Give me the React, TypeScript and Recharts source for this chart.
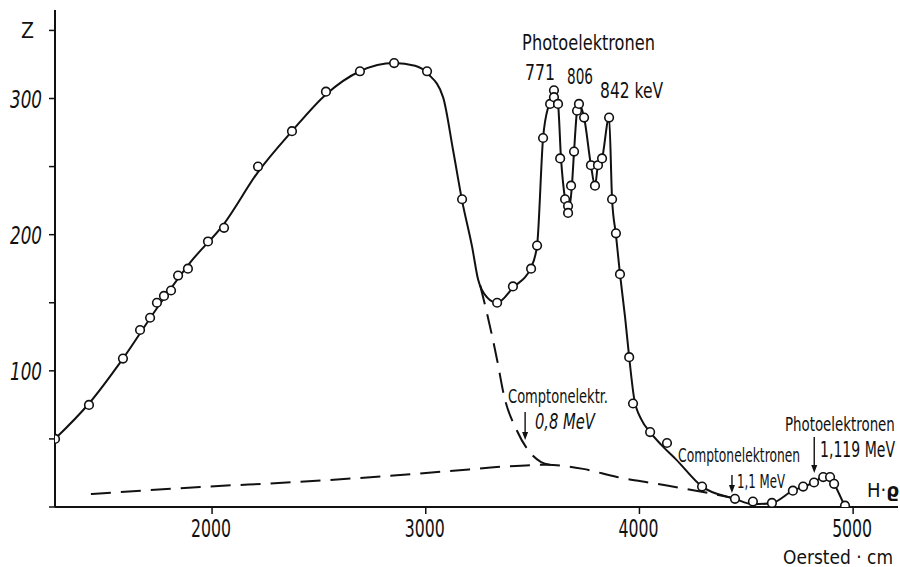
import { useLayoutEffect, useRef, useState } from "react"
import { ComposedChart, Line, Scatter, XAxis, YAxis, ReferenceDot } from "recharts"

// measured points (circles): H·ρ in Oersted·cm, Z counts
const pointH = [
  1265, 1424, 1583, 1663, 1710, 1742, 1775, 1808, 1841, 1887, 1981, 2056, 2215, 2374, 2533, 2692, 2852, 3006,
  3170, 3334, 3408, 3493, 3521, 3549, 3582, 3600, 3600, 3619, 3629, 3652, 3666, 3666, 3680, 3694, 3708, 3717,
  3741, 3773, 3792, 3806, 3825, 3858, 3872, 3890, 3909, 3952, 3970, 4050, 4129, 4293, 4447, 4531, 4620, 4718,
  4766, 4817, 4860, 4892, 4911, 4962,
]
const pointZ = [
  50, 75, 109, 130, 139, 150, 155, 159, 170, 175, 195, 205, 250, 276, 305, 320, 326, 320,
  226, 150, 162, 175, 192, 271, 296, 306, 301, 296, 256, 226, 221, 216, 236, 261, 291, 296,
  286, 251, 236, 251, 256, 286, 226, 201, 171, 110, 76, 55, 47, 15, 6, 4, 3, 12,
  15, 18, 22, 22, 17, 1,
]

// drawn solid curve
const curveH = [
  1265, 1424, 1583, 1742, 1900, 2056, 2215, 2374, 2533, 2692, 2852, 2950, 3011, 3081, 3128, 3170, 3217, 3245,
  3287, 3334, 3408, 3493, 3521, 3549, 3577, 3600, 3619, 3633, 3652, 3666, 3684, 3694, 3708, 3717, 3741, 3773,
  3792, 3806, 3825, 3858, 3872, 3890, 3909, 3933, 3952, 3975, 4010, 4050, 4100, 4171, 4293, 4447, 4531, 4620,
  4718, 4766, 4817, 4860, 4892, 4911, 4962,
]
const curveZ = [
  50, 76, 109, 146, 180, 208, 246, 276, 303, 320, 326, 324, 318, 301, 262, 225, 191, 167,
  154, 150, 161, 176, 192, 271, 296, 306, 296, 256, 226, 216, 236, 261, 291, 296, 286, 251,
  236, 251, 256, 286, 226, 200, 171, 139, 110, 80, 64, 55, 46, 35, 15, 6, 2, 3,
  12, 15, 18, 22, 22, 17, 0,
]

// dashed: Compton background
const backH = [1433, 1944, 2412, 2880, 3114, 3348, 3567, 3736, 3895, 4082, 4298, 4438]
const backZ = [9.5, 14.7, 18.5, 23.5, 26.4, 29.5, 31, 28, 22, 17, 11, 6.6]

// dashed: Compton edge 0,8 MeV
const edgeH = [3254, 3287, 3334, 3366, 3427, 3488, 3540, 3582]
const edgeZ = [163, 142, 108, 82, 56, 40, 33, 31]

const xTicks = [2000, 3000, 4000, 5000]
const yTicks = [0, 50, 100, 150, 200, 250, 300, 350]
const yLabels: Record<number, string> = { 100: "100", 200: "200", 300: "300", 350: "Z" }

const rows = (h: number[], z: number[]) => h.map((v, i) => ({ h: v, z: z[i] }))

const font = "'DejaVu Sans Condensed', 'Liberation Sans Narrow', 'Liberation Sans', sans-serif"

// text squeezed horizontally to a given width (the original lettering is very narrow)
function T({ x, y, size, len, children, italic }: any) {
  const ref = useRef<SVGTextElement>(null)
  const [sx, setSx] = useState(1)
  useLayoutEffect(() => {
    const w = ref.current?.getComputedTextLength()
    if (w && len) setSx(len / w)
  }, [len, children])
  return (
    <text ref={ref} transform={`translate(${x},${y}) scale(${sx},1)`} fontSize={size} fontFamily={font}
      fill="#111" fontStyle={italic ? "italic" : "normal"}>
      {children}
    </text>
  )
}

function Arrow({ x, y1, y2 }: { x: number; y1: number; y2: number }) {
  return (
    <g>
      <line x1={x} y1={y1} x2={x} y2={y2 - 6} stroke="#111" strokeWidth={1.4} />
      <path d={`M${x - 3},${y2 - 8} L${x + 3},${y2 - 8} L${x},${y2} Z`} fill="#111" />
    </g>
  )
}

function YTick({ x, y, payload }: any) {
  const s = yLabels[payload.value]
  if (!s) return null
  if (s === "Z") return <T x={21} y={y + 8} size={22} len={13}>Z</T>
  return <T x={x - 32} y={y + 9} size={25} len={32} italic>{s}</T>
}

function XTick({ x, y, payload }: any) {
  return <T x={x - 21} y={y + 18} size={25} len={40}>{payload.value}</T>
}

const note = (h: number, z: number, draw: (cx: number, cy: number) => any, key: string) => (
  <ReferenceDot key={key} x={h} y={z} r={0} ifOverflow="visible"
    shape={(p: any) => draw(p.cx, p.cy)} />
)

export default function App() {
  return (
    <div style={{ width: 900, height: 567, background: "#fff" }}>
      <style>{`body{margin:0;background:#fff}`}</style>
      <ComposedChart width={900} height={567} margin={{ top: 10, right: 2, left: 0, bottom: 0 }}>
        <XAxis type="number" dataKey="h" domain={[1265, 5210]} allowDataOverflow ticks={xTicks}
          height={60} tickSize={7} tickMargin={5} tick={<XTick />}
          axisLine={{ stroke: "#111", strokeWidth: 2 }} tickLine={{ stroke: "#111", strokeWidth: 1.5 }} />
        <YAxis type="number" domain={[0, 365]} allowDataOverflow ticks={yTicks} width={55}
          tickSize={6} tickMargin={7} tick={<YTick />}
          axisLine={{ stroke: "#111", strokeWidth: 2 }} tickLine={{ stroke: "#111", strokeWidth: 1.5 }} />

        <Line data={rows(backH, backZ)} dataKey="z" type="monotone" stroke="#111" strokeWidth={2}
          strokeDasharray="20 10" dot={false} isAnimationActive={false} />
        <Line data={rows(edgeH, edgeZ)} dataKey="z" type="monotone" stroke="#111" strokeWidth={2}
          strokeDasharray="20 10" dot={false} isAnimationActive={false} />
        <Line data={rows(curveH, curveZ)} dataKey="z" type="monotone" stroke="#111" strokeWidth={2}
          dot={false} isAnimationActive={false} />
        <Scatter data={rows(pointH, pointZ)} dataKey="z" isAnimationActive={false}
          shape={(p: any) => <circle cx={p.cx} cy={p.cy} r={4.3} fill="#fff" stroke="#111" strokeWidth={1.6} />} />

        {note(3451, 335.6, (x, y) => <T x={x} y={y} size={22} len={133}>Photoelektronen</T>, "pe1")}
        {note(3465, 313.6, (x, y) => <T x={x} y={y} size={22} len={30}>771</T>, "e771")}
        {note(3661, 310.7, (x, y) => <T x={x} y={y} size={22} len={26}>806</T>, "e806")}
        {note(3816, 300.4, (x, y) => <T x={x} y={y} size={22} len={63}>842 keV</T>, "e842")}

        {note(3385, 76.4, (x, y) => <T x={x} y={y} size={19} len={100}>Comptonelektr.</T>, "ce1")}
        {note(3511, 57.3, (x, y) => <T x={x} y={y} size={21} len={60} italic>0,8 MeV</T>, "ce1v")}
        {note(3465, 69.8, (x, y) => <Arrow x={x} y1={y} y2={y + 28} />, "ce1a")}

        {note(4181, 33, (x, y) => <T x={x} y={y} size={20} len={122}>Comptonelektronen</T>, "ce2")}
        {note(4457, 14, (x, y) => <T x={x} y={y} size={19} len={48}>1,1 MeV</T>, "ce2v")}
        {note(4433, 23.5, (x, y) => <Arrow x={x} y1={y} y2={y + 18} />, "ce2a")}

        {note(4681, 55.8, (x, y) => <T x={x} y={y} size={19} len={110}>Photoelektronen</T>, "pe2")}
        {note(4845, 36.7, (x, y) => <T x={x} y={y} size={21} len={75}>1,119 MeV</T>, "pe2v")}
        {note(4818, 51.4, (x, y) => <Arrow x={x} y1={y} y2={y + 36} />, "pe2a")}

        {note(5065, 7.3, (x, y) => (
          <g>
            <text x={x} y={y} fontSize={20} fontFamily={font} fill="#111">
              H·<tspan fontWeight="bold" textDecoration="underline">ϱ</tspan>
            </text>
          </g>
        ), "hr")}
        {note(4672, -41.9, (x, y) => <T x={x} y={y} size={19} len={110}>Oersted · cm</T>, "unit")}
      </ComposedChart>
    </div>
  )
}
